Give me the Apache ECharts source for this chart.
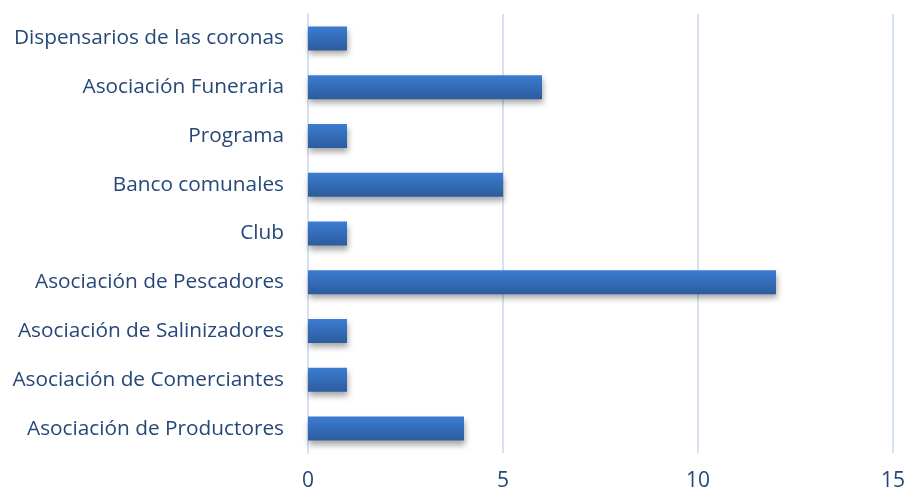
<!DOCTYPE html>
<html><head><meta charset="utf-8">
<script src="https://cdn.jsdelivr.net/npm/echarts@6/dist/echarts.min.js"></script>
<style>html,body{margin:0;padding:0;background:#fff}#c{width:908px;height:495px}</style>
</head><body><div id="c"></div>
<script>
const categories = ["Asociación de Productores","Asociación de Comerciantes","Asociación de Salinizadores","Asociación de Pescadores","Club","Banco comunales","Programa","Asociación Funeraria","Dispensarios de las coronas"];
const values = [4,1,1,12,1,5,1,6,1];
const xTicks = [0,5,10,15];
const chart = echarts.init(document.getElementById('c'));
const txt = '#264878';
chart.setOption({
  animation:false,
  grid:{left:308,right:15,top:14,bottom:42,containLabel:false},
  xAxis:{type:'value',min:0,max:15,interval:5,
    axisLine:{show:false},axisTick:{show:false},
    splitLine:{lineStyle:{color:'#D6E1F2',width:2}},
    axisLabel:{color:txt,fontSize:21,fontFamily:'Open Sans',margin:18}},
  yAxis:{type:'category',data:categories,
    axisLine:{show:true,lineStyle:{color:'#D6E1F2',width:2}},axisTick:{show:false},
    axisLabel:{color:txt,fontSize:20.8,fontFamily:'Open Sans',margin:24}},
  series:[{type:'bar',data:values,barWidth:24,
    itemStyle:{color:new echarts.graphic.LinearGradient(0,0,0,1,[{offset:0,color:'#3B7CD3'},{offset:1,color:'#2C5C9C'}]),
      shadowColor:'rgba(0,0,0,0.35)',shadowBlur:6,shadowOffsetY:4,shadowOffsetX:1}}]
});
</script></body></html>
